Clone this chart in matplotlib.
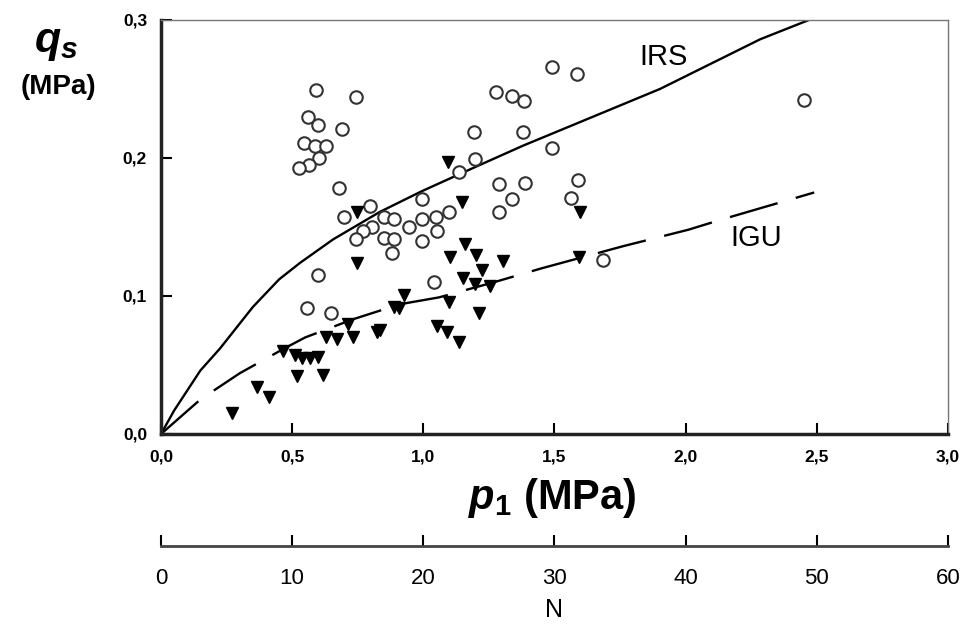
import matplotlib
matplotlib.use('Agg')
import matplotlib.pyplot as plt

plt.rcParams['font.family'] = 'Liberation Sans'
plt.rcParams['mathtext.fontset'] = 'custom'
plt.rcParams['mathtext.it'] = 'Liberation Sans:italic:bold'
plt.rcParams['mathtext.rm'] = 'Liberation Sans:bold'

# open circles (IRS data)
circ_p1 = [0.591, 0.742, 0.562, 0.597, 0.690, 0.545, 0.587, 0.628, 0.601, 0.565,
           0.525, 0.677, 0.797, 0.698, 0.850, 0.888, 0.803, 0.771, 0.743, 0.850,
           0.888, 0.880, 0.600, 0.558, 0.648, 1.277, 1.339, 1.385, 1.192, 1.381,
           1.491, 1.196, 1.136, 0.995, 1.287, 1.389, 1.339, 1.287, 0.944, 0.995,
           1.048, 1.099, 0.995, 1.051, 1.042, 1.588, 1.563, 1.686, 2.450, 1.490,
           1.585]
circ_qs = [0.249, 0.244, 0.230, 0.224, 0.221, 0.211, 0.209, 0.209, 0.200, 0.195,
           0.193, 0.178, 0.165, 0.157, 0.157, 0.156, 0.150, 0.147, 0.141, 0.142,
           0.141, 0.131, 0.115, 0.091, 0.088, 0.248, 0.245, 0.241, 0.219, 0.219,
           0.207, 0.199, 0.190, 0.170, 0.181, 0.182, 0.170, 0.161, 0.150, 0.156,
           0.157, 0.161, 0.140, 0.147, 0.110, 0.184, 0.171, 0.126, 0.242, 0.266,
           0.261]

# filled triangles (IGU data)
tri_p1 = [0.746, 1.093, 1.146, 1.597, 0.749, 1.159, 1.201, 1.102, 1.303, 1.222,
          1.153, 1.197, 1.254, 1.099, 1.214, 1.051, 1.089, 1.137, 1.595, 0.926,
          0.908, 0.890, 0.835, 0.629, 0.670, 0.733, 0.822, 0.714, 0.466, 0.511,
          0.536, 0.568, 0.600, 0.520, 0.619, 0.365, 0.413, 0.270]
tri_qs = [0.161, 0.197, 0.168, 0.161, 0.124, 0.138, 0.130, 0.128, 0.125, 0.119,
          0.113, 0.109, 0.107, 0.096, 0.088, 0.078, 0.074, 0.067, 0.128, 0.101,
          0.091, 0.092, 0.075, 0.0705, 0.069, 0.0705, 0.074, 0.080, 0.060, 0.057,
          0.055, 0.055, 0.056, 0.042, 0.043, 0.034, 0.027, 0.015]

# IRS curve
irs_p1 = [0, 0.05, 0.15, 0.225, 0.35, 0.45, 0.53, 0.656, 0.835, 0.995, 1.216,
          1.381, 1.521, 1.902, 2.284, 2.47]
irs_qs = [0, 0.017, 0.046, 0.062, 0.092, 0.112, 0.124, 0.141, 0.161, 0.176, 0.195,
          0.209, 0.220, 0.250, 0.286, 0.300]

# IGU curve
igu_p1 = [0, 0.15, 0.30, 0.47, 0.55, 0.73, 0.91, 1.06, 1.27, 1.45, 1.76, 2.01,
          2.13, 2.49]
igu_qs = [0, 0.025, 0.044, 0.062, 0.070, 0.083, 0.094, 0.099, 0.110, 0.120, 0.136,
          0.148, 0.155, 0.175]

x_ticks = [0, 0.5, 1.0, 1.5, 2.0, 2.5, 3.0]
x_labels = ['0,0', '0,5', '1,0', '1,5', '2,0', '2,5', '3,0']
y_ticks = [0, 0.1, 0.2, 0.3]
y_labels = ['0,0', '0,1', '0,2', '0,3']
n_ticks = [0, 10, 20, 30, 40, 50, 60]

fig = plt.figure(figsize=(9.63, 6.24), dpi=100)
ax = fig.add_axes([0.1672, 0.3045, 0.8172, 0.6635])

ax.plot(irs_p1, irs_qs, color='black', lw=1.7)
ax.plot(igu_p1, igu_qs, color='black', lw=1.7, dashes=(21, 8))
ax.plot(circ_p1, circ_qs, 'o', mfc='white', mec='#333333', mew=1.5, ms=9)
ax.plot(tri_p1, tri_qs, 'v', color='black', ms=9)

ax.text(1.914, 0.273, 'IRS', fontsize=21, ha='center', va='center')
ax.text(2.27, 0.142, 'IGU', fontsize=21, ha='center', va='center')

ax.set_xlim(0, 3)
ax.set_ylim(0, 0.3)
ax.set_xticks(x_ticks)
ax.set_xticklabels(x_labels, fontweight='bold')
ax.set_yticks(y_ticks)
ax.set_yticklabels(y_labels, fontweight='bold')
ax.tick_params(direction='in', length=8, width=1.5, labelsize=12.5)
ax.tick_params(axis='x', pad=11)
ax.tick_params(axis='y', pad=10)
for s in ['left', 'bottom']:
    ax.spines[s].set_linewidth(2.5)
    ax.spines[s].set_color('#222222')
for s in ['top', 'right']:
    ax.spines[s].set_linewidth(1)
    ax.spines[s].set_color('#777777')

fig.text(56 / 963, 1 - 43 / 624, r'$q_s$', fontsize=31, ha='center', va='center')
fig.text(58 / 963, 1 - 87 / 624, '(MPa)', fontsize=20, fontweight='bold',
         ha='center', va='center')
fig.text(552 / 963, 1 - 498 / 624, r'$p_{\mathit{1}}$ (MPa)', fontsize=30,
         fontweight='bold', ha='center', va='center')

# secondary N scale
ax2 = fig.add_axes([0.1672, 1 - 546 / 624, 0.8172, 0.0005])
ax2.patch.set_visible(False)
for s in ['top', 'left', 'right']:
    ax2.spines[s].set_visible(False)
ax2.spines['bottom'].set_linewidth(2)
ax2.spines['bottom'].set_color('#444444')
ax2.set_xlim(0, 60)
ax2.set_xticks(n_ticks)
ax2.set_yticks([])
ax2.tick_params(direction='in', length=8, width=1.5, labelsize=16, pad=16)
fig.text(554 / 963, 1 - 610 / 624, 'N', fontsize=18, ha='center', va='center')

fig.savefig('out.png', dpi=100)
